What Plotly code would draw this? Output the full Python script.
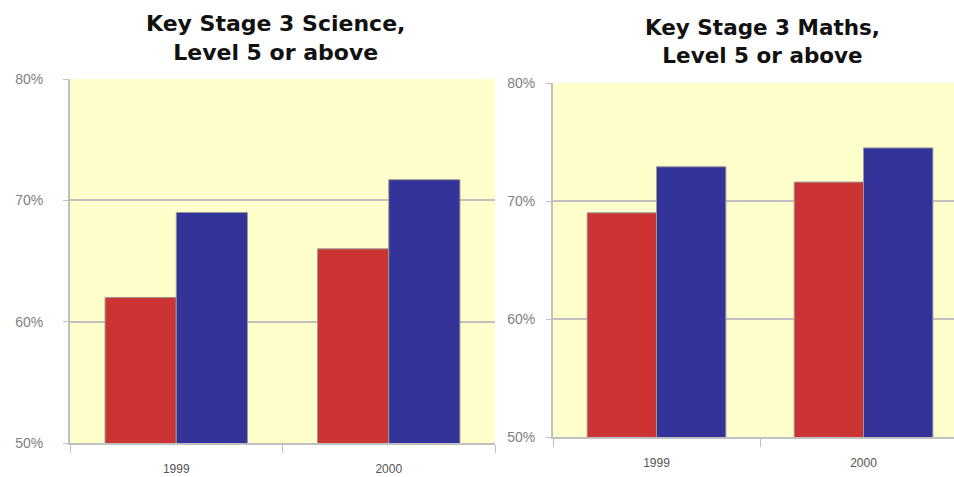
import plotly.graph_objects as go

years = ["1999", "2000"]
science_red = [62.0, 66.0]
science_blue = [69.0, 71.7]
maths_red = [69.0, 71.6]
maths_blue = [72.9, 74.5]
y_ticks = [50, 60, 70, 80]
y_tick_labels = ["50%", "60%", "70%", "80%"]

RED = "#CC3333"
BLUE = "#333399"
YELLOW = "#FFFFCC"
GRID = "#C0C0C0"

fig = go.Figure()
for xa, ya, r, b in [("x", "y", science_red, science_blue), ("x2", "y2", maths_red, maths_blue)]:
    fig.add_trace(go.Bar(x=years, y=r, marker=dict(color=RED, line=dict(color="#999999", width=1)),
                         xaxis=xa, yaxis=ya, showlegend=False, hoverinfo="skip"))
    fig.add_trace(go.Bar(x=years, y=b, marker=dict(color=BLUE, line=dict(color="#999999", width=1)),
                         xaxis=xa, yaxis=ya, showlegend=False, hoverinfo="skip"))

W, H = 954, 477
common_y = dict(range=[50, 80], tickmode="array", tickvals=y_ticks, ticktext=y_tick_labels,
                showgrid=True, gridcolor=GRID,
                gridwidth=1.5, showline=True, linecolor=GRID, linewidth=2, ticks="outside",
                ticklen=5, tickcolor=GRID, tickfont=dict(family="Liberation Sans", size=14, color="#808080"),
                zeroline=False, automargin=False)
common_x = dict(type="category", showline=True, linecolor=GRID, linewidth=2, ticks="outside",
                tickson="boundaries", ticklen=8, tickcolor=GRID, showgrid=False, automargin=False,
                ticklabelstandoff=14,
                tickfont=dict(family="Liberation Sans", size=12, color="#555555"))

fig.update_layout(
    width=W, height=H, margin=dict(l=0, r=0, t=0, b=0, pad=0), autosize=False,
    paper_bgcolor="white", plot_bgcolor=YELLOW,
    barmode="group", bargap=0.33, bargroupgap=0,
    xaxis=dict(common_x, domain=[70 / W, 495 / W], range=[-0.5, 1.5], anchor="y"),
    yaxis=dict(common_y, domain=[1 - 443 / H, 1 - 79 / H], anchor="x", ticklabelstandoff=17),
    xaxis2=dict(common_x, domain=[553 / W, 1.0], range=[-0.5, 1.437], anchor="y2"),
    yaxis2=dict(common_y, domain=[1 - 437 / H, 1 - 83 / H], anchor="x2", ticklabelstandoff=8),
    annotations=[
        dict(text="<b>Key Stage 3 Science,<br>Level 5 or above</b>", xref="paper", yref="paper",
             x=275 / W, y=1 - 38 / H, xanchor="center", yanchor="middle", showarrow=False,
             font=dict(family="DejaVu Sans", size=22, color="#111111")),
        dict(text="<b>Key Stage 3 Maths,<br>Level 5 or above</b>", xref="paper", yref="paper",
             x=762 / W, y=1 - 42 / H, xanchor="center", yanchor="middle", showarrow=False,
             font=dict(family="DejaVu Sans", size=21.5, color="#111111")),
    ],
)

fig.write_html("out.html", config={"displayModeBar": False},
               post_script="document.body.style.margin='0';document.body.style.overflow='hidden';")
